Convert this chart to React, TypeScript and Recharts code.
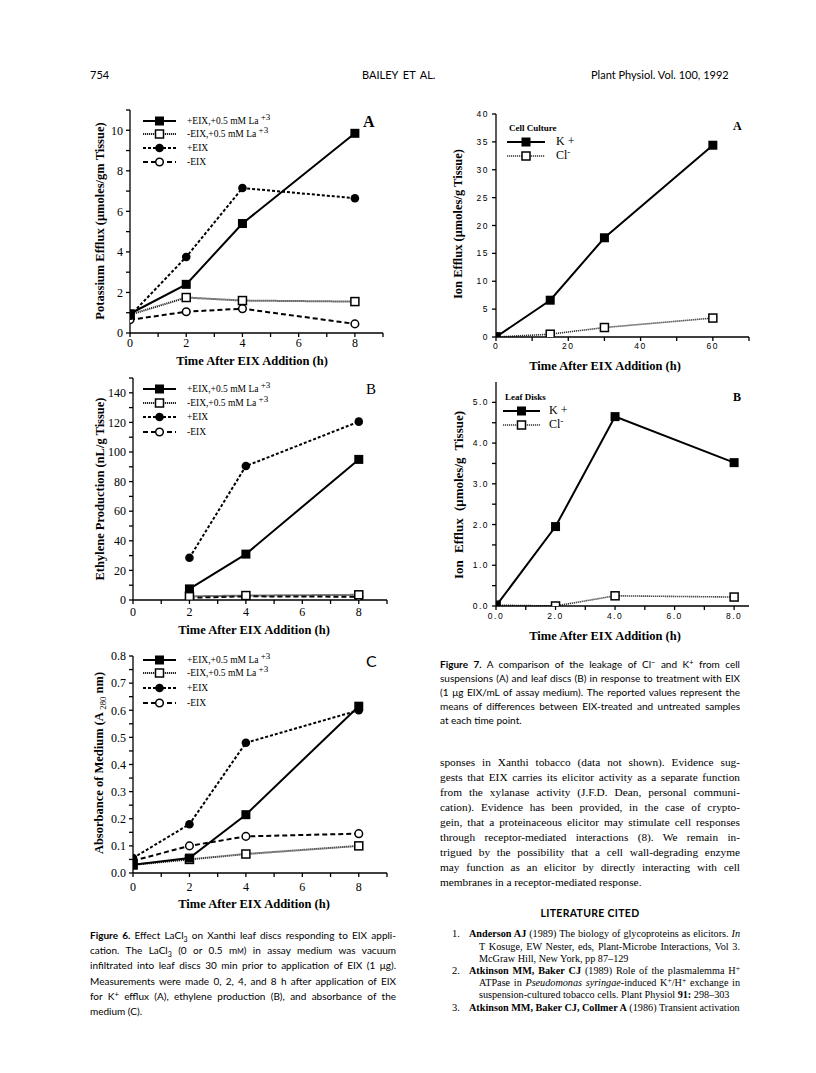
import React from 'react';
import { LineChart, Line, XAxis, YAxis } from 'recharts';

const SERIF = '"Liberation Serif", "DejaVu Serif", serif';
const SANS = 'Lato, "Open Sans", sans-serif';
const TICKSANS = '"Liberation Sans", Arial, sans-serif';

// Figure 6 (leaf discs, LaCl3)
const fig6Hours = [0, 2, 4, 8];
const potEixLa = [0.95, 2.4, 5.4, 9.85];
const potNoEixLa = [0.9, 1.75, 1.6, 1.55];
const potEix = [0.85, 3.75, 7.15, 6.65];
const potNoEix = [0.65, 1.05, 1.2, 0.45];

const ethHours = [2, 4, 8];
const ethEixLa = [7.5, 31, 95];
const ethNoEixLa = [2.5, 3, 3.5];
const ethEix = [28.5, 90.5, 120.5];
const ethNoEix = [1.5, 2.5, 2.2];

const absEixLa = [0.03, 0.055, 0.215, 0.615];
const absNoEixLa = [0.03, 0.05, 0.07, 0.1];
const absEix = [0.055, 0.18, 0.48, 0.6];
const absNoEix = [0.045, 0.1, 0.135, 0.145];

// Figure 7 (cell culture / leaf disks)
const cultureMinutes = [0, 15, 30, 60];
const cultureK = [0, 6.6, 17.8, 34.4];
const cultureCl = [0, 0.5, 1.7, 3.4];

const leafHours = [0, 2, 4, 8];
const leafK = [0, 1.95, 4.65, 3.52];
const leafCl = [0.02, 0, 0.25, 0.22];

// ticks
const hourTicks = [0, 1, 2, 3, 4, 5, 6, 7, 8, 9];
const hourLabels = [0, 2, 4, 6, 8];
const potTicks = [0, 1, 2, 3, 4, 5, 6, 7, 8, 9, 10, 11];
const potLabels = [0, 2, 4, 6, 8, 10];
const ethTicks = [0, 10, 20, 30, 40, 50, 60, 70, 80, 90, 100, 110, 120, 130, 140, 150];
const ethLabels = [0, 20, 40, 60, 80, 100, 120, 140];
const absTicks = [0, 0.05, 0.1, 0.15, 0.2, 0.25, 0.3, 0.35, 0.4, 0.45, 0.5, 0.55, 0.6, 0.65, 0.7, 0.75, 0.8];
const absLabels = [0, 0.1, 0.2, 0.3, 0.4, 0.5, 0.6, 0.7, 0.8];
const minuteTicks = [0, 10, 20, 30, 40, 50, 60, 70];
const minuteLabels = [0, 20, 40, 60];
const ionTicks = [0, 5, 10, 15, 20, 25, 30, 35, 40];
const leafXTicks = [0, 1, 2, 3, 4, 5, 6, 7, 8];
const leafXLabels = [0, 2, 4, 6, 8];
const leafYTicks = [0, 0.5, 1, 1.5, 2, 2.5, 3, 3.5, 4, 4.5, 5];
const leafYLabels = [0, 1, 2, 3, 4, 5];

const table = (xs: number[], cols: Record<string, number[]>) =>
  xs.map((x, i) => {
    const row: any = { x };
    Object.keys(cols).forEach((k) => (row[k] = cols[k][i]));
    return row;
  });

const potData = table(fig6Hours, { eixLa: potEixLa, noEixLa: potNoEixLa, eix: potEix, noEix: potNoEix });
const ethData = table(ethHours, { eixLa: ethEixLa, noEixLa: ethNoEixLa, eix: ethEix, noEix: ethNoEix });
const absData = table(fig6Hours, { eixLa: absEixLa, noEixLa: absNoEixLa, eix: absEix, noEix: absNoEix });
const cultureData = table(cultureMinutes, { k: cultureK, cl: cultureCl });
const leafData = table(leafHours, { k: leafK, cl: leafCl });

type Shape = 'fsq' | 'osq' | 'fc' | 'oc';
type SeriesStyle = { key: string; shape: Shape; dash?: string; width: number; color: string };

const FIG6_SERIES: SeriesStyle[] = [
  { key: 'noEix', shape: 'oc', dash: '5 3', width: 2, color: '#000' },
  { key: 'noEixLa', shape: 'osq', dash: '1.2 0.8', width: 2, color: '#222' },
  { key: 'eix', shape: 'fc', dash: '3 2', width: 2, color: '#000' },
  { key: 'eixLa', shape: 'fsq', width: 2, color: '#000' },
];
const FIG7_SERIES: SeriesStyle[] = [
  { key: 'cl', shape: 'osq', dash: '1.2 0.8', width: 1.6, color: '#333' },
  { key: 'k', shape: 'fsq', width: 2, color: '#000' },
];

const Marker = ({ cx, cy, shape }: { cx?: number; cy?: number; shape: Shape }) => {
  if (cx == null || cy == null) return null;
  switch (shape) {
    case 'fsq':
      return <rect x={cx - 4.5} y={cy - 4.5} width={9} height={9} fill="#000" />;
    case 'osq':
      return <rect x={cx - 4} y={cy - 4} width={8} height={8} fill="#fff" stroke="#000" strokeWidth={1.5} />;
    case 'fc':
      return <circle cx={cx} cy={cy} r={4.3} fill="#000" />;
    default:
      return <circle cx={cx} cy={cy} r={3.8} fill="#fff" stroke="#000" strokeWidth={1.5} />;
  }
};

type PanelProps = {
  box: [number, number, number, number];
  data: any[];
  xDomain: [number, number];
  xTicks: number[];
  xLabels: number[];
  yDomain: [number, number];
  yTicks: number[];
  yLabels: number[];
  digits?: number;
  xDigits?: number;
  series: SeriesStyle[];
  tick: any;
  xGap?: number;
};

const Panel = (p: PanelProps) => {
  const [l, t, r, b] = p.box;
  const padL = 52, padT = 10, padR = 10, padB = 40, yW = 42, xH = 24;
  const fmt = (labels: number[], digits?: number) => (v: number) =>
    labels.some((m) => Math.abs(m - v) < 1e-9) ? (digits ? v.toFixed(digits) : String(v)) : '';
  return (
    <div style={{ position: 'absolute', left: l - padL, top: t - padT }}>
      <LineChart
        width={r - l + padL + padR}
        height={b - t + padT + padB}
        data={p.data}
        margin={{ top: padT, right: padR, left: padL - yW, bottom: padB - xH }}
      >
        <XAxis xAxisId="b" dataKey="x" type="number" domain={p.xDomain} ticks={p.xTicks} interval={0}
          tickFormatter={fmt(p.xLabels, p.xDigits)} height={xH} stroke="#000" strokeWidth={1.3}
          tickSize={4} tickMargin={p.xGap ?? 2} tick={p.tick} allowDataOverflow />
        <XAxis xAxisId="t" orientation="top" dataKey="x" type="number" domain={p.xDomain}
          height={0} tick={false} tickLine={false} stroke="#000" strokeWidth={1.3} allowDataOverflow />
        <YAxis yAxisId="l" type="number" domain={p.yDomain} ticks={p.yTicks} interval={0}
          tickFormatter={fmt(p.yLabels, p.digits)} width={yW} stroke="#000" strokeWidth={1.3}
          tickSize={4} tickMargin={3} tick={p.tick} allowDataOverflow />
        <YAxis yAxisId="r" orientation="right" type="number" domain={p.yDomain}
          width={0} tick={false} tickLine={false} stroke="#000" strokeWidth={1.3} allowDataOverflow />
        {p.series.map((s) => (
          <Line key={s.key} xAxisId="b" yAxisId="l" type="linear" dataKey={s.key} stroke={s.color}
            strokeWidth={s.width} strokeDasharray={s.dash} isAnimationActive={false}
            dot={(d: any) => <Marker key={`${s.key}-${d.index}`} cx={d.cx} cy={d.cy} shape={s.shape} />}
            activeDot={false} />
        ))}
      </LineChart>
    </div>
  );
};

const abs = (x: number, y: number, style: React.CSSProperties = {}): React.CSSProperties => ({
  position: 'absolute', left: x, top: y, whiteSpace: 'nowrap', ...style,
});

const VLabel = ({ x, y, children, style }: { x: number; y: number; children: React.ReactNode; style?: React.CSSProperties }) => (
  <div style={{ position: 'absolute', left: x, top: y, transform: 'translate(-50%, -50%) rotate(-90deg)',
    whiteSpace: 'nowrap', fontFamily: SERIF, fontWeight: 'bold', fontSize: 12.5, ...style }}>{children}</div>
);

const CLabel = ({ x, y, children, style }: { x: number; y: number; children: React.ReactNode; style?: React.CSSProperties }) => (
  <div style={{ position: 'absolute', left: x, top: y, transform: 'translate(-50%, -50%)',
    whiteSpace: 'nowrap', fontFamily: SERIF, fontWeight: 'bold', fontSize: 12.5, lineHeight: '14px', ...style }}>{children}</div>
);

const Sample = ({ s, w }: { s: SeriesStyle; w: number }) => (
  <svg width={w} height={12} style={{ display: 'block' }}>
    <line x1={0} y1={6} x2={w} y2={6} stroke={s.color} strokeWidth={s.width} strokeDasharray={s.dash} />
    <Marker cx={w / 2} cy={6} shape={s.shape} />
  </svg>
);

const sty = (k: string) => FIG6_SERIES.find((s) => s.key === k) as SeriesStyle;
const sup = (t: string, size = '75%') => <sup style={{ fontSize: size, verticalAlign: '0.45em', lineHeight: 0 }}>{t}</sup>;

const fig6Legend = [
  { s: 'eixLa', label: <>+EIX,+0.5 mM La {sup('+3', '95%')}</> },
  { s: 'noEixLa', label: <>-EIX,+0.5 mM La {sup('+3', '95%')}</> },
  { s: 'eix', label: <>+EIX</> },
  { s: 'noEix', label: <>-EIX</> },
];

const Legend6 = ({ ys }: { ys: number[] }) => (
  <>
    {fig6Legend.map((row, i) => (
      <React.Fragment key={row.s}>
        <div style={abs(143, ys[i] - 6)}><Sample s={sty(row.s)} w={33} /></div>
        <div style={abs(187, ys[i] - 7, { fontFamily: SERIF, fontSize: 9.5, lineHeight: '14px' })}>{row.label}</div>
      </React.Fragment>
    ))}
  </>
);

const Legend7 = ({ x, y, title, lineW, textX }: { x: number; y: number; title: string; lineW: number; textX: number }) => (
  <>
    <div style={abs(x + 2, y - 7, { fontFamily: SERIF, fontWeight: 'bold', fontSize: 9, lineHeight: '14px' })}>{title}</div>
    <div style={abs(x, y + 8)}><Sample s={FIG7_SERIES[1]} w={lineW} /></div>
    <div style={abs(textX, y + 6, { fontFamily: SERIF, fontSize: 12, lineHeight: '14px' })}>K +</div>
    <div style={abs(x, y + 22)}><Sample s={FIG7_SERIES[0]} w={lineW} /></div>
    <div style={abs(textX, y + 20, { fontFamily: SERIF, fontSize: 12, lineHeight: '14px' })}>Cl{sup('-')}</div>
  </>
);

const TextLine = ({ x, y, w, last, children, style }: { x: number; y: number; w: number; last?: boolean; children: React.ReactNode; style?: React.CSSProperties }) => (
  <div style={{ position: 'absolute', left: x, top: y - 7, width: w, lineHeight: '14px', textAlign: 'justify',
    textAlignLast: last ? 'left' : 'justify', whiteSpace: 'nowrap', ...style }}>{children}</div>
);

const tick6 = { fontFamily: SERIF, fontSize: 12, fill: '#000' };
const tick7 = { fontFamily: TICKSANS, fontSize: 8.5, fill: '#000', letterSpacing: 1.5 };

const cap6 = [
  <><b>Figure 6.</b> Effect LaCl<sub style={{ fontSize: '70%' }}>3</sub> on Xanthi leaf discs responding to EIX appli-</>,
  <>cation. The LaCl<sub style={{ fontSize: '70%' }}>3</sub> (0 or 0.5 m<span style={{ fontVariant: 'small-caps' }}>m</span>) in assay medium was vacuum</>,
  <>infiltrated into leaf discs 30 min prior to application of EIX (1 μg).</>,
  <>Measurements were made 0, 2, 4, and 8 h after application of EIX</>,
  <>for K{sup('+')} efflux (A), ethylene production (B), and absorbance of the</>,
  <>medium (C).</>,
];
const cap7 = [
  <><b>Figure 7.</b> A comparison of the leakage of Cl{sup('−')} and K{sup('+')} from cell</>,
  <>suspensions (A) and leaf discs (B) in response to treatment with EIX</>,
  <>(1 μg EIX/mL of assay medium). The reported values represent the</>,
  <>means of differences between EIX-treated and untreated samples</>,
  <>at each time point.</>,
];
const body = [
  'sponses in Xanthi tobacco (data not shown). Evidence sug-',
  'gests that EIX carries its elicitor activity as a separate function',
  'from the xylanase activity (J.F.D. Dean, personal communi-',
  'cation). Evidence has been provided, in the case of crypto-',
  'gein, that a proteinaceous elicitor may stimulate cell responses',
  'through receptor-mediated interactions (8). We remain in-',
  'trigued by the possibility that a cell wall-degrading enzyme',
  'may function as an elicitor by directly interacting with cell',
  'membranes in a receptor-mediated response.',
];
const refs: { n?: string; text: React.ReactNode; last?: boolean }[] = [
  { n: '1.', text: <><b>Anderson AJ</b> (1989) The biology of glycoproteins as elicitors. <i>In</i></> },
  { text: <>T Kosuge, EW Nester, eds, Plant-Microbe Interactions, Vol 3.</> },
  { text: <>McGraw Hill, New York, pp 87–129</>, last: true },
  { n: '2.', text: <><b>Atkinson MM, Baker CJ</b> (1989) Role of the plasmalemma H{sup('+')}</> },
  { text: <>ATPase in <i>Pseudomonas syringae</i>-induced K{sup('+')}/H{sup('+')} exchange in</> },
  { text: <>suspension-cultured tobacco cells. Plant Physiol <b>91:</b> 298–303</>, last: true },
  { n: '3.', text: <><b>Atkinson MM, Baker CJ, Collmer A</b> (1986) Transient activation</>, last: true },
];
const refYs = [934, 946.5, 958.5, 971, 983, 995, 1007.5];

export default function App() {
  return (
    <div style={{ position: 'absolute', left: 0, top: 0, width: 816, height: 1073, background: '#fff', overflow: 'hidden', color: '#000' }}>
      {/* header */}
      <div style={abs(90, 68, { fontFamily: SANS, fontSize: 11 })}>754</div>
      <div style={abs(362, 68, { fontFamily: SANS, fontSize: 11, wordSpacing: 2 })}>BAILEY ET AL.</div>
      <div style={abs(591, 68, { fontFamily: SANS, fontSize: 11 })}>Plant Physiol. Vol. 100, 1992</div>

      {/* Figure 6A */}
      <Panel box={[130, 110, 383, 333]} data={potData} xDomain={[0, 9]} xTicks={hourTicks} xLabels={hourLabels}
        yDomain={[0, 11]} yTicks={potTicks} yLabels={potLabels} series={FIG6_SERIES} tick={tick6} xGap={1} />
      <Legend6 ys={[121, 134, 148, 162]} />
      <div style={abs(363, 113, { fontFamily: SERIF, fontWeight: 'bold', fontSize: 16, lineHeight: '18px' })}>A</div>
      <VLabel x={100} y={221}>Potassium Efflux (μmoles/gm Tissue)</VLabel>
      <CLabel x={252} y={361}>Time After EIX Addition (h)</CLabel>

      {/* Figure 6B */}
      <Panel box={[133, 378, 387, 600]} data={ethData} xDomain={[0, 9]} xTicks={hourTicks} xLabels={hourLabels}
        yDomain={[0, 150]} yTicks={ethTicks} yLabels={ethLabels} series={FIG6_SERIES} tick={tick6} xGap={3} />
      <Legend6 ys={[389, 403, 417, 432]} />
      <div style={abs(366, 380, { fontFamily: SERIF, fontSize: 15, lineHeight: '18px' })}>B</div>
      <VLabel x={100} y={489}>Ethylene Production (nL/g Tissue)</VLabel>
      <CLabel x={254} y={630}>Time After EIX Addition (h)</CLabel>

      {/* Figure 6C */}
      <Panel box={[133, 656, 387, 873]} data={absData} xDomain={[0, 9]} xTicks={hourTicks} xLabels={hourLabels}
        yDomain={[0, 0.8]} yTicks={absTicks} yLabels={absLabels} digits={1} series={FIG6_SERIES} tick={tick6} xGap={5} />
      <Legend6 ys={[660, 673, 688, 703]} />
      <div style={abs(366, 652, { fontFamily: SANS, fontSize: 16, lineHeight: '18px' })}>C</div>
      <VLabel x={100} y={763}>Absorbance of Medium (A <sub style={{ fontSize: '70%', fontWeight: 'normal' }}>280</sub> nm)</VLabel>
      <CLabel x={254} y={904}>Time After EIX Addition (h)</CLabel>

      {/* Figure 7A */}
      <Panel box={[496, 114, 749, 337]} data={cultureData} xDomain={[0, 70]} xTicks={minuteTicks} xLabels={minuteLabels}
        yDomain={[0, 40]} yTicks={ionTicks} yLabels={ionTicks} series={FIG7_SERIES} tick={tick7} xGap={2} />
      <Legend7 x={507} y={128} title="Cell Culture" lineW={38} textX={556} />
      <div style={abs(733, 118, { fontFamily: SERIF, fontWeight: 'bold', fontSize: 12, lineHeight: '16px' })}>A</div>
      <VLabel x={458} y={224}>Ion Efflux (μmoles/g Tissue)</VLabel>
      <CLabel x={605} y={366}>Time After EIX Addition (h)</CLabel>

      {/* Figure 7B */}
      <Panel box={[496, 382, 749, 606]} data={leafData} xDomain={[0, 8.5]} xTicks={leafXTicks} xLabels={leafXLabels} xDigits={1}
        yDomain={[0, 5.5]} yTicks={leafYTicks} yLabels={leafYLabels} digits={1} series={FIG7_SERIES} tick={tick7} xGap={3} />
      <Legend7 x={503} y={397} title="Leaf Disks" lineW={37} textX={549} />
      <div style={abs(733, 389, { fontFamily: SERIF, fontWeight: 'bold', fontSize: 12, lineHeight: '16px' })}>B</div>
      <VLabel x={459} y={495} style={{ wordSpacing: 4, fontSize: 13 }}>Ion Efflux (μmoles/g Tissue)</VLabel>
      <CLabel x={605} y={636}>Time After EIX Addition (h)</CLabel>

      {/* captions and text */}
      {cap6.map((c, i) => (
        <TextLine key={i} x={90} y={935 + i * 15.2} w={306} last={i === cap6.length - 1}
          style={{ fontFamily: SANS, fontSize: 10 }}>{c}</TextLine>
      ))}
      {cap7.map((c, i) => (
        <TextLine key={i} x={440} y={664 + i * 13.9} w={300} last={i === cap7.length - 1}
          style={{ fontFamily: SANS, fontSize: 10 }}>{c}</TextLine>
      ))}
      {body.map((c, i) => (
        <TextLine key={i} x={440} y={762 + i * 15} w={300} last={i === body.length - 1}
          style={{ fontFamily: SERIF, fontSize: 11.3 }}>{c}</TextLine>
      ))}
      <div style={abs(590, 906, { transform: 'translateX(-50%)', fontFamily: SANS, fontWeight: 'bold', fontSize: 10.5, letterSpacing: 0.3, lineHeight: '14px' })}>LITERATURE CITED</div>
      {refs.map((r, i) => (
        <React.Fragment key={i}>
          {r.n && <div style={abs(452, refYs[i] - 7, { fontFamily: SERIF, fontSize: 10.5, lineHeight: '14px' })}>{r.n}</div>}
          <TextLine x={r.n ? 469 : 479} y={refYs[i]} w={r.n ? 271 : 261} last={r.last}
            style={{ fontFamily: SERIF, fontSize: 10.2 }}>{r.text}</TextLine>
        </React.Fragment>
      ))}
    </div>
  );
}
